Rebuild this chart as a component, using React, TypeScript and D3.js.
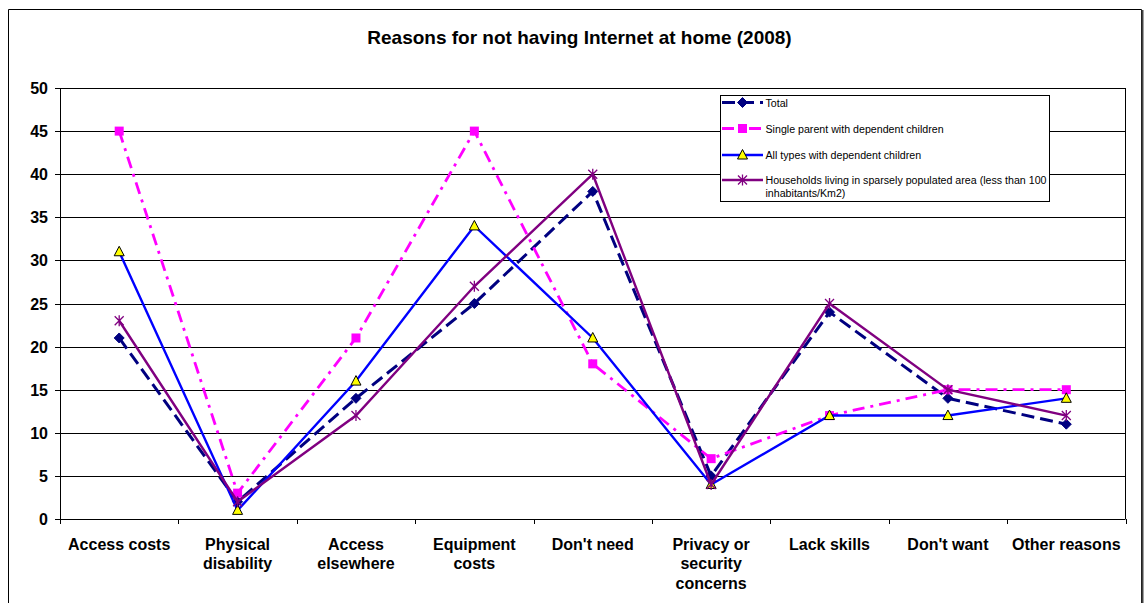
import React from "react";
import * as d3 from "d3";

const categories: string[][] = [
  ["Access costs"],
  ["Physical", "disability"],
  ["Access", "elsewhere"],
  ["Equipment", "costs"],
  ["Don't need"],
  ["Privacy or", "security", "concerns"],
  ["Lack skills"],
  ["Don't want"],
  ["Other reasons"],
];

const total = [21, 2, 14, 25, 38, 5, 24, 14, 11];
const singleParent = [45, 3, 21, 45, 18, 7, 12, 15, 15];
const allTypes = [31, 1, 16, 34, 21, 4, 12, 12, 14];
const sparse = [23, 2, 12, 27, 40, 4, 25, 15, 12];

const yTicks = [0, 5, 10, 15, 20, 25, 30, 35, 40, 45, 50];

type Marker = "diamond" | "square" | "triangle" | "star";

const series: {
  name: string[];
  values: number[];
  color: string;
  width: number;
  dash: string | null;
  marker: Marker;
}[] = [
  { name: ["Total"], values: total, color: "#000080", width: 3, dash: "13,6", marker: "diamond" },
  {
    name: ["Single parent with dependent children"],
    values: singleParent,
    color: "#FF00FF",
    width: 2.8,
    dash: "12,6,3,6",
    marker: "square",
  },
  { name: ["All types with dependent children"], values: allTypes, color: "#0000FF", width: 2.4, dash: null, marker: "triangle" },
  {
    name: ["Households living in sparsely populated area (less than 100", "inhabitants/Km2)"],
    values: sparse,
    color: "#800080",
    width: 2.4,
    dash: null,
    marker: "star",
  },
];

const W = 1147;
const H = 603;
const plot = { left: 60, right: 1125.5, top: 88, bottom: 519 };
const FONT = "'Liberation Sans', Arial, sans-serif";

function MarkerShape({ kind, x, y, color }: { kind: Marker; x: number; y: number; color: string }) {
  if (kind === "diamond") {
    const r = 5;
    return <path d={`M${x},${y - r}L${x + r},${y}L${x},${y + r}L${x - r},${y}Z`} fill={color} stroke={color} strokeWidth={1} />;
  }
  if (kind === "square") {
    const s = 9;
    return <rect x={x - s / 2} y={y - s / 2} width={s} height={s} fill={color} />;
  }
  if (kind === "triangle") {
    return (
      <path d={`M${x},${y - 5.5}L${x + 5},${y + 4}L${x - 5},${y + 4}Z`} fill="#FFFF00" stroke="#000" strokeWidth={1} />
    );
  }
  const r = 4.5;
  return (
    <path
      d={`M${x - r},${y - r}L${x + r},${y + r}M${x + r},${y - r}L${x - r},${y + r}M${x},${y - r - 1}L${x},${y + r + 1}`}
      stroke={color}
      strokeWidth={1.3}
      fill="none"
    />
  );
}

export default function App() {
  const x = d3
    .scaleBand<number>()
    .domain(categories.map((_, i) => i))
    .range([plot.left, plot.right]);
  const y = d3.scaleLinear().domain([0, 50]).range([plot.bottom, plot.top]);
  const cx = (i: number) => (x(i) as number) + x.bandwidth() / 2;

  const line = d3
    .line<number>()
    .x((_, i) => cx(i))
    .y((v) => y(v));

  const legend = { x: 720.5, y: 95.5, w: 329, h: 106 };
  const legendRows = [102.5, 128.5, 155, 180];

  return (
    <svg
      width={W}
      height={H}
      style={{ position: "absolute", left: 0, top: 0, background: "#fff" }}
      fontFamily={FONT}
    >
      <rect x={0} y={0} width={W} height={H} fill="#fff" />
      {/* outer chart frame */}
      <path d={`M8.5,${H + 2}V9.5H1141.5V${H + 2}`} fill="none" stroke="#000" strokeWidth={1} />
      <line x1={1142.5} x2={1142.5} y1={10} y2={H + 2} stroke="#444" strokeWidth={2} />

      <text x={579.5} y={44} textAnchor="middle" fontWeight="bold" fontSize={19}>
        Reasons for not having Internet at home (2008)
      </text>

      {/* gridlines */}
      {yTicks.map((t) => (
        <line
          key={t}
          x1={plot.left}
          x2={plot.right}
          y1={Math.round(y(t)) + 0.5}
          y2={Math.round(y(t)) + 0.5}
          stroke="#000"
          strokeWidth={1}
        />
      ))}
      {/* plot border */}
      <line x1={plot.right} x2={plot.right} y1={plot.top} y2={plot.bottom} stroke="#000" strokeWidth={1} />
      <line x1={plot.left + 0.5} x2={plot.left + 0.5} y1={plot.top} y2={plot.bottom + 1} stroke="#000" strokeWidth={1} />

      {/* y axis */}
      {yTicks.map((t) => (
        <g key={t}>
          <line x1={55} x2={plot.left} y1={Math.round(y(t)) + 0.5} y2={Math.round(y(t)) + 0.5} stroke="#000" />
          <text x={48} y={y(t) + 6} textAnchor="end" fontWeight="bold" fontSize={16}>
            {t}
          </text>
        </g>
      ))}

      {/* x axis ticks and labels */}
      {categories.map((_, i) => (
        <line
          key={`t${i}`}
          x1={Math.round(x(i) as number) + 0.5}
          x2={Math.round(x(i) as number) + 0.5}
          y1={plot.bottom}
          y2={plot.bottom + 5}
          stroke="#000"
        />
      ))}
      <line
        x1={Math.round(plot.right) + 0.5}
        x2={Math.round(plot.right) + 0.5}
        y1={plot.bottom}
        y2={plot.bottom + 5}
        stroke="#000"
      />
      {categories.map((lines, i) => (
        <text key={`c${i}`} textAnchor="middle" fontWeight="bold" fontSize={16}>
          {lines.map((l, j) => (
            <tspan key={j} x={cx(i)} y={549.5 + j * 19.5}>
              {l}
            </tspan>
          ))}
        </text>
      ))}

      {/* series */}
      {series.map((s) => (
        <g key={s.name[0]}>
          <path
            d={line(s.values) || ""}
            fill="none"
            stroke={s.color}
            strokeWidth={s.width}
            strokeDasharray={s.dash || undefined}
          />
          {s.values.map((v, i) => (
            <MarkerShape key={i} kind={s.marker} x={cx(i)} y={y(v)} color={s.color} />
          ))}
        </g>
      ))}

      {/* legend */}
      <rect x={legend.x} y={legend.y} width={legend.w} height={legend.h} fill="#fff" stroke="#000" strokeWidth={1} />
      {series.map((s, k) => (
        <g key={`l${k}`}>
          <line
            x1={722}
            x2={763}
            y1={legendRows[k]}
            y2={legendRows[k]}
            stroke={s.color}
            strokeWidth={s.width}
            strokeDasharray={s.dash || undefined}
          />
          <MarkerShape kind={s.marker} x={742.5} y={legendRows[k]} color={s.color} />
          <text fontSize={10.65} fill="#000">
            {s.name.map((l, j) => (
              <tspan key={j} x={765.5} y={legendRows[k] + 4 + j * 13}>
                {l}
              </tspan>
            ))}
          </text>
        </g>
      ))}
    </svg>
  );
}
